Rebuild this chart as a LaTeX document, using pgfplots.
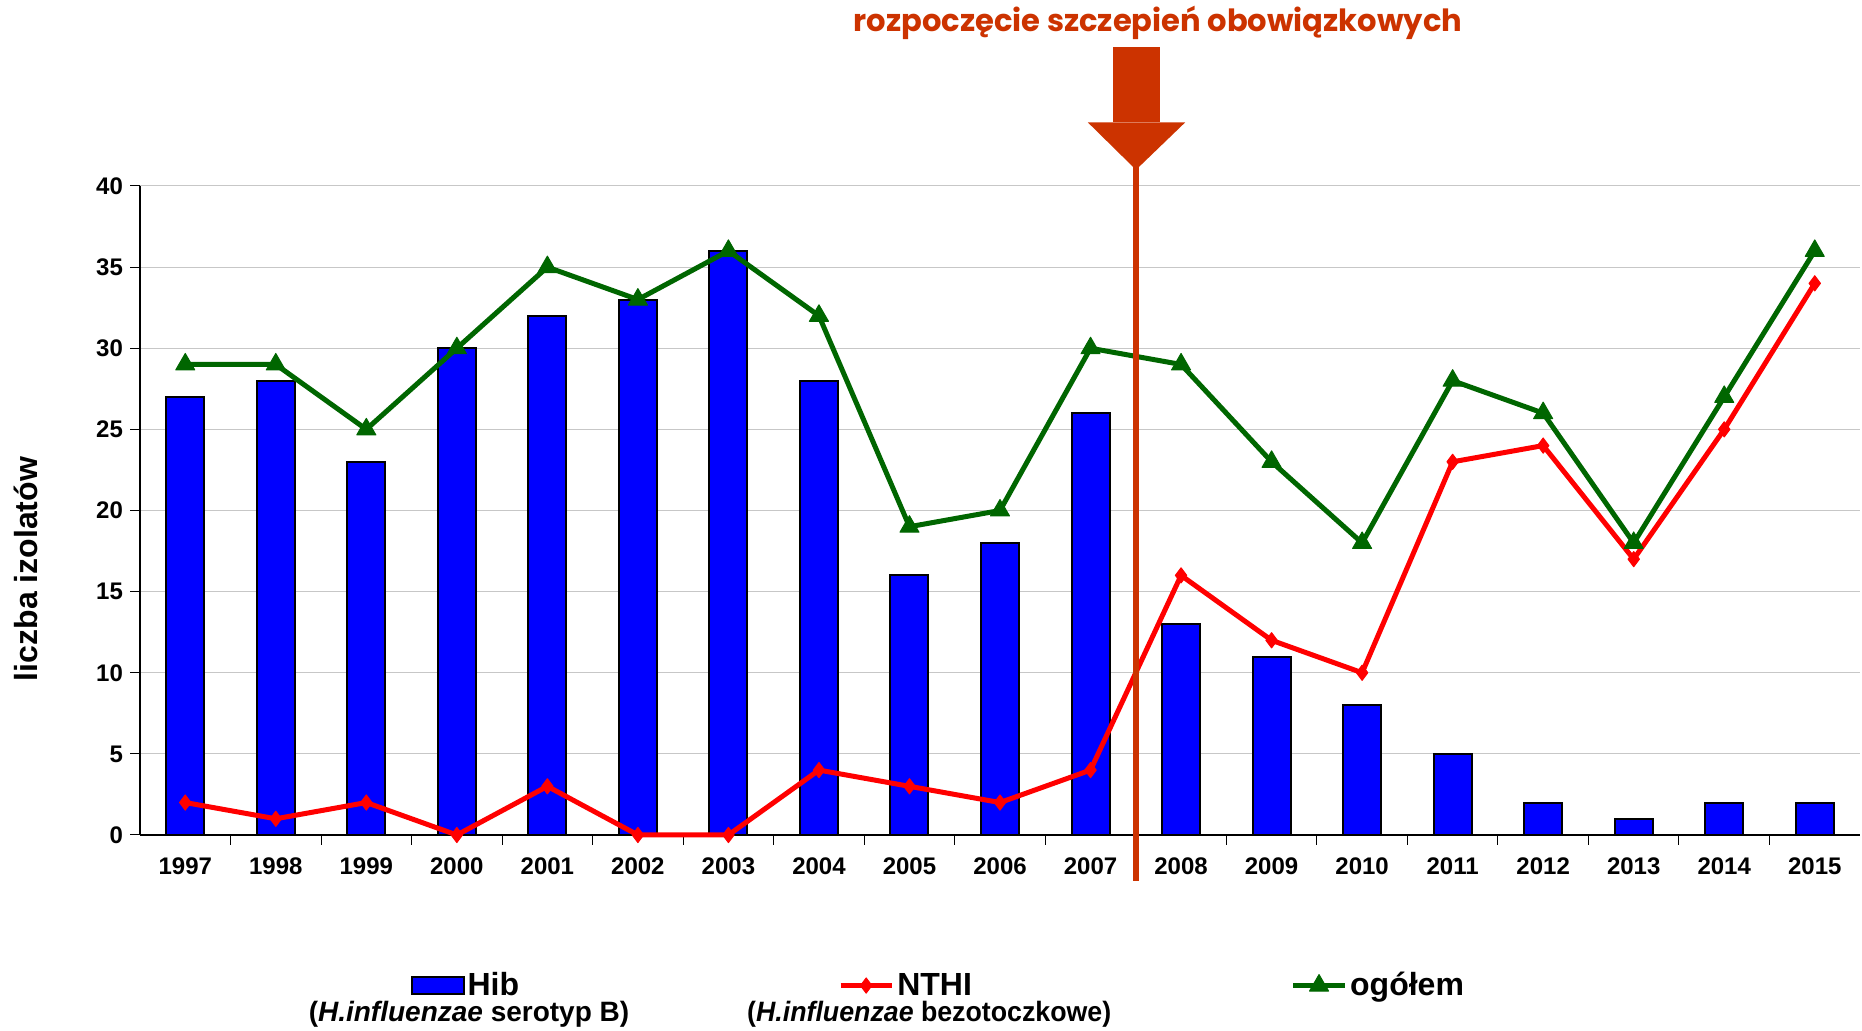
\documentclass[border=0pt]{standalone}
\usepackage{pgfplots}
\pgfplotsset{compat=1.18}
\usepackage{pgfplotstable}
\usepackage{fontspec}
\setmainfont{Liberation Sans}
\newfontfamily\titlefont{Poppins}
\definecolor{hibblue}{RGB}{0,0,255}
\definecolor{nthired}{RGB}{255,0,0}
\definecolor{totgreen}{RGB}{0,102,0}
\definecolor{vacc}{RGB}{204,51,0}

\pgfplotsset{
  barlegend/.style={legend image code/.code={\draw[##1] (0cm,-0.15cm) rectangle (0.9cm,0.15cm);}},
  linelegend/.style={legend image code/.code={\draw[mark repeat=2,mark phase=2,##1] plot coordinates {(0cm,0cm) (0.45cm,0cm) (0.9cm,0cm)};}},
}

\pgfplotstableread{
x hib nthi tot
0 27 2 29
1 28 1 29
2 23 2 25
3 30 0 30
4 32 3 35
5 33 0 33
6 36 0 36
7 28 4 32
8 16 3 19
9 18 2 20
10 26 4 30
11 13 16 29
12 11 12 23
13 8 10 18
14 5 23 28
15 2 24 26
16 1 17 18
17 2 25 27
18 2 34 36
}\data

\begin{document}
\begin{tikzpicture}[x=1pt,y=1pt]
\begin{axis}[
  at={(70pt,98pt)}, anchor=south west,
  scale only axis, width=860pt, height=324.5pt,
  xmin=-0.5, xmax=18.5, ymin=0, ymax=40,
  axis lines*=left,
  axis line style={black, line width=0.6pt},
  xtick={0.5,1.5,...,17.5}, xticklabels={},
  extra x ticks={0,1,...,18},
  extra x tick labels={1997,1998,1999,2000,2001,2002,2003,2004,2005,2006,2007,2008,2009,2010,2011,2012,2013,2014,2015},
  extra x tick style={major tick length=0pt, grid=none},
  ytick={0,5,...,40},
  ymajorgrids, grid style={black!22, line width=0.5pt},
  tick align=outside, major tick length=5pt,
  tick style={black, line width=0.5pt},
  ticklabel style={font=\bfseries\fontsize{12}{14}\selectfont},
  xticklabel style={yshift=-8pt},
  /pgf/number format/assume math mode=true,
  clip=false,
  legend columns=3,
  legend cell align=left,
  legend style={at={(0.1575,-0.232)}, anchor=west, draw=none, fill=none,
    inner sep=0pt, nodes={inner xsep=1.5pt, inner ysep=1pt},
    font=\bfseries\fontsize{16}{19}\selectfont,
    /tikz/every even column/.append style={column sep=158pt}},
]
\addplot[ybar, bar width=19pt, fill=hibblue, draw=black, line width=1pt, barlegend]
  table[x=x,y=hib]{\data};
\addlegendentry{Hib}
\addplot[nthired, line width=2.5pt, line join=round, mark=diamond*, mark size=3.8pt,
  mark options={solid, fill=nthired, line width=0.5pt}, linelegend]
  table[x=x,y=nthi]{\data};
\addlegendentry{NTHI}
\addplot[totgreen, line width=2.5pt, line join=round, mark=triangle*, mark size=5.5pt,
  mark options={solid, fill=totgreen, line width=0.5pt}, linelegend]
  table[x=x,y=tot]{\data};
\addlegendentry{ogółem}
\end{axis}
% vaccination marker
\draw[vacc, line width=3pt] (568,433) -- (568,75);
\fill[vacc] (556.4,491.75) rectangle (580.1,454.3);
\fill[vacc] (543.9,454.3) -- (592.6,454.3) -- (568,430.6) -- cycle;
\node[anchor=base, text=vacc, font=\titlefont\bfseries\fontsize{15.3}{18}\selectfont] at (579,499.5) {rozpoczęcie szczepień obowiązkowych};
% y label
\node[rotate=90, font=\bfseries\fontsize{16}{19}\selectfont] at (13,231) {liczba izolatów};
% legend subtitles
\node[font=\bfseries\fontsize{14}{17}\selectfont] at (234.5,8.5) {(\textit{H.influenzae} serotyp B)};
\node[xscale=0.955, font=\bfseries\fontsize{14}{17}\selectfont] at (464.6,8.5) {(\textit{H.influenzae} bezotoczkowe)};
\pgfresetboundingbox
\path[use as bounding box] (0,0) rectangle (931,515.5);
\end{tikzpicture}
\end{document}
